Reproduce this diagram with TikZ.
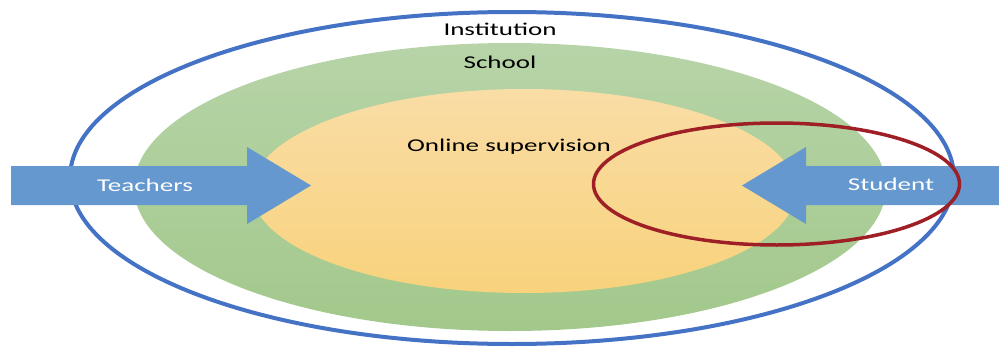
\documentclass[tikz,border=0pt]{standalone}
\usepackage{fontspec}
\setmainfont{Carlito}
\usetikzlibrary{positioning}

\definecolor{instblue}{HTML}{4472C4}
\definecolor{arrowblue}{HTML}{6598CE}
\definecolor{schooltop}{HTML}{B7D4A8}
\definecolor{schoolbot}{HTML}{A2C88B}
\definecolor{onlinetop}{HTML}{F9DDA6}
\definecolor{onlinebot}{HTML}{F8D27C}
\definecolor{focusred}{HTML}{9E1F26}

\newcommand{\widetext}[1]{\scalebox{1.5}[1]{#1}}

\begin{document}
\begin{tikzpicture}[x=1pt,y=-1pt,
  lbl/.style={anchor=base,inner sep=0pt,font=\fontsize{18}{20}\selectfont},
  arrowlbl/.style={lbl,text=white}]
\useasboundingbox (0,0) rectangle (999,348);
% rings
\draw[instblue,line width=4pt] (512,178) ellipse [x radius=442,y radius=166];
\shade[top color=schooltop,bottom color=schoolbot] (510,187) ellipse [x radius=376,y radius=144];
\shade[top color=onlinetop,bottom color=onlinebot] (524,191) ellipse [x radius=272,y radius=102];
% arrows
\fill[arrowblue] (11,166) -- (247,166) -- (247,147) -- (311,185.5) -- (247,224) -- (247,205) -- (11,205) -- cycle;
\fill[arrowblue] (999,166) -- (806,166) -- (806,147) -- (742,185.5) -- (806,224) -- (806,205) -- (999,205) -- cycle;
% student focus
\draw[focusred,line width=3.5pt] (776.5,184) ellipse [x radius=183,y radius=61];
% labels
\node[lbl] (inst) at (500,35) {\widetext{Institution}};
\node[lbl] (school) at (500,68) {\widetext{School}};
\node[lbl] (online) at (509,151) {\widetext{Online supervision}};
\node[arrowlbl] (teachers) at (145,191) {\widetext{Teachers}};
\node[arrowlbl] (student) at (891,190) {\widetext{Student}};
\end{tikzpicture}
\end{document}
